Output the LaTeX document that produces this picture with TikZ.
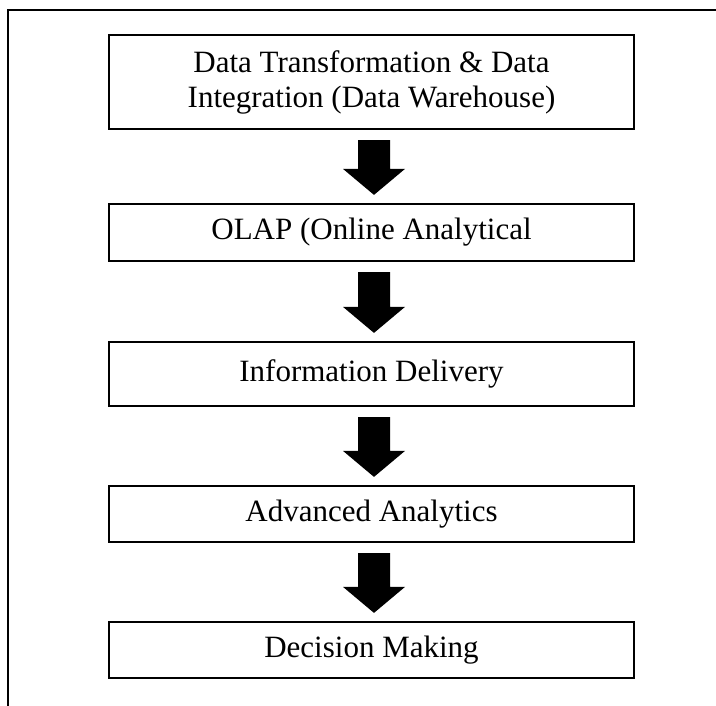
\documentclass[tikz,border=0pt]{standalone}
\usepackage{fontspec}
\setmainfont{Liberation Serif}
\usetikzlibrary{calc}
\begin{document}
\begin{tikzpicture}[x=1pt,y=-1pt,
  stage/.style={draw=black, line width=2.2pt, rectangle, minimum width=525pt,
    inner sep=0pt, align=center, font=\fontsize{31}{35}\selectfont},
  blockarrow/.style={fill=black}]
\useasboundingbox (0,0) rectangle (716,706);
% open frame: top and left edges only
\draw[line width=2.5pt] (8,706) -- (8,10) -- (717,10);

\node[stage, minimum height=94pt] (dw)   at (371.5,82)  {Data Transformation \& Data\\Integration (Data Warehouse)};
\node[stage, minimum height=57pt] (olap) at (371.5,232.5) {OLAP (Online Analytical};
\node[stage, minimum height=64pt] (info) at (371.5,374) {Information Delivery};
\node[stage, minimum height=56pt] (adv)  at (371.5,514) {Advanced Analytics};
\node[stage, minimum height=56pt] (dec)  at (371.5,650) {Decision Making};

% thick block arrows between consecutive stages
\foreach \a/\b in {dw/olap, olap/info, info/adv, adv/dec}{
  \fill[blockarrow] let \p1=($(\a.south)+(2.5,10)$), \p2=($(\b.north)+(2.5,-8)$) in
    (\x1-16pt,\y1) -- (\x1+16pt,\y1) -- (\x1+16pt,\y2+26pt) -- (\x1+31pt,\y2+26pt)
    -- (\x2,\y2) -- (\x1-31pt,\y2+26pt) -- (\x1-16pt,\y2+26pt) -- cycle;
}
\end{tikzpicture}
\end{document}
